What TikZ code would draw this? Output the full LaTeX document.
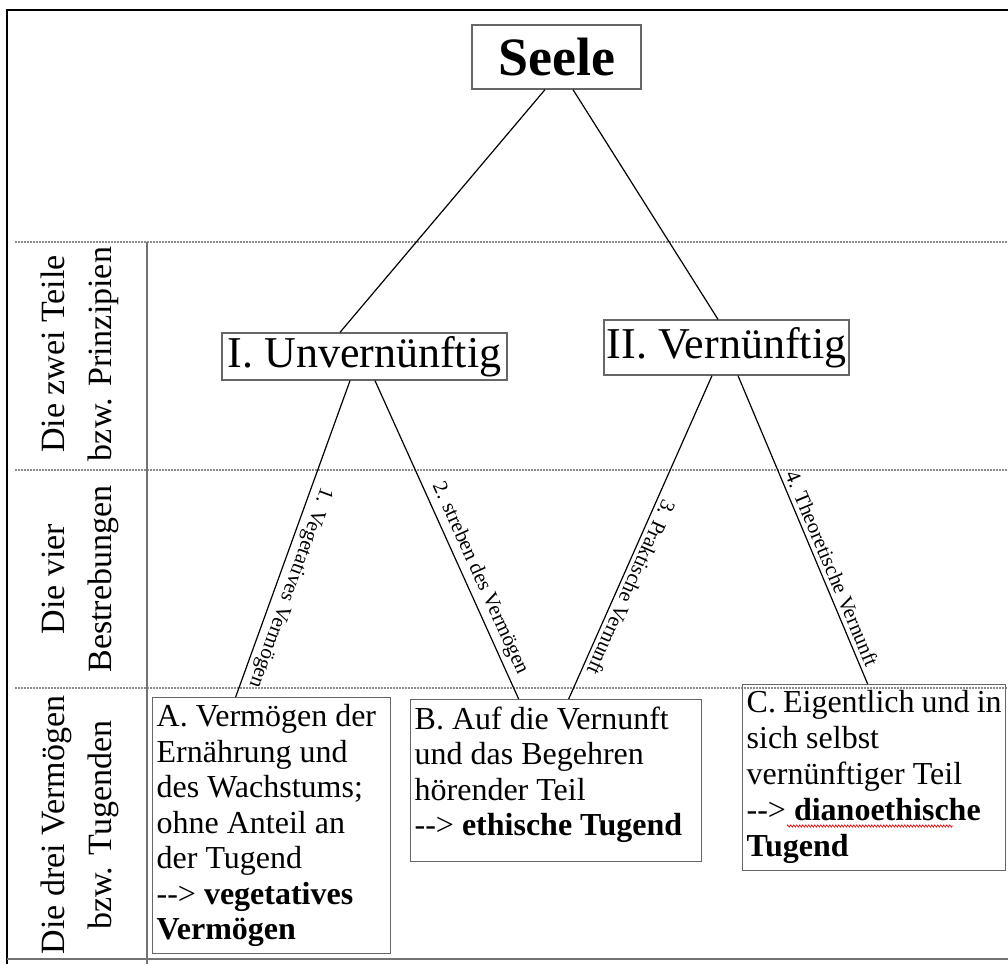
\documentclass[tikz,border=0pt]{standalone}
\usepackage{fontspec}
\setmainfont{Liberation Serif}
\usepackage{tikz}
\usetikzlibrary{positioning, decorations.pathmorphing}
\tikzset{x = 1pt, y = -1pt,
         every node/.style = {inner sep = 0pt},
         kasten/.style = {draw = black!60, line width = 1.3pt},
         teil/.style = {kasten, font = \fontsize{44}{44}\selectfont},
         tugend/.style = {kasten, anchor = north west, inner sep = 4pt,
                          font = \fontsize{32}{35.5}\selectfont},
         ebene/.style = {rotate = 90, align = center,
                         font = \fontsize{34}{47}\selectfont},
         strebung/.style = {sloped, allow upside down, above, inner sep = 4pt,
                            pos = 0.64, font = \fontsize{21}{21}\selectfont},
         linie/.style = {line width = 1.2pt},
         trenner/.style = {draw = black!45, line width = 1.2pt,
                           dash pattern = on 1.5pt off 1.5pt},
         wellig/.style = {red, line width = 0.6pt, decorate,
                          decoration = {zigzag, amplitude = 1.2pt, segment length = 3pt}}}

\begin{document}
\begin{tikzpicture}
    \useasboundingbox (0,0) rectangle (1008,964);
    % Rahmen und Ebenen
    \draw[line width = 2.5pt] (1008,10) -| (7,964);
    \foreach \y in {242, 470, 688}
        \draw[trenner] (15,\y) -- (1008,\y);
    \draw[black!55, line width = 1.3pt] (147,242) -- (147,964);
    \draw[black!55, line width = 2pt] (7,959) -- (1008,959);

    \node[ebene] (zwei) at (80,354) {Die zwei Teile\\bzw. Prinzipien};
    \node[ebene] (vier) at (80,579) {Die vier\\Bestrebungen};
    \node[ebene] (drei) at (80,825) {Die drei Vermögen\\bzw. Tugenden};

    % Knoten
    \node[teil, font = \fontsize{54}{54}\selectfont\bfseries,
          minimum width = 169pt, minimum height = 64pt] (seele) at (556.5,57) {Seele};
    \node[teil, minimum width = 285pt, minimum height = 47pt] (uv) at (364.5,356.5) {I. Unvernünftig};
    \node[teil, minimum width = 245pt, minimum height = 55pt] (v)  at (726.5,347.5) {II. Vernünftig};

    \node[tugend, inner ysep = 7pt] (a) at (152,697) {\parbox[t][242pt][t]{230pt}{\raggedright
        A. Vermögen der\\Ernährung und\\des Wachstums;\\ohne Anteil an\\der Tugend\\
        -{}-> \textbf{vegetatives}\\\textbf{Vermögen}}};
    \node[tugend, inner ysep = 7pt] (b) at (410,699) {\parbox[t][148pt][t]{283pt}{\raggedright
        B. Auf die Vernunft\\und das Begehren\\hörender Teil\\
        -{}-> \textbf{ethische Tugend}}};
    \node[tugend, inner ysep = 6pt, font = \fontsize{32}{36}\selectfont] (c) at (742,684)
        {\parbox[t][174pt][t]{255pt}{\raggedright
        C. Eigentlich und in\\sich selbst\\vernünftiger Teil\\
        -{}-> \textbf{dianoethische}\\\textbf{Tugend}}};
    \draw[wellig] ([shift = {(45,142)}]c.north west) -- ++(166,0);

    % Verbindungen
    \draw[linie] ([xshift = -11.5pt]seele.south) -- ([xshift = -24.5pt]uv.north);
    \draw[linie] ([xshift = 16.5pt]seele.south)  -- ([xshift = -8.5pt]v.north);

    \draw[linie] ([xshift = -14.5pt]uv.south) -- node[strebung] {1. Vegetatives Vermögen} ([xshift = -36pt]a.north);
    \draw[linie] ([xshift = 10.5pt]uv.south)  -- node[strebung] {2. streben des Vermögen} ([xshift = -37.5pt]b.north);
    \draw[linie] ([xshift = -14.5pt]v.south)  -- node[strebung] {3. Praktische Vernunft} ([xshift = 12.5pt]b.north);
    \draw[linie] ([xshift = 11.5pt]v.south)   -- node[strebung] {4. Theoretische Vernunft} ([xshift = -6.5pt]c.north);
\end{tikzpicture}
\end{document}
